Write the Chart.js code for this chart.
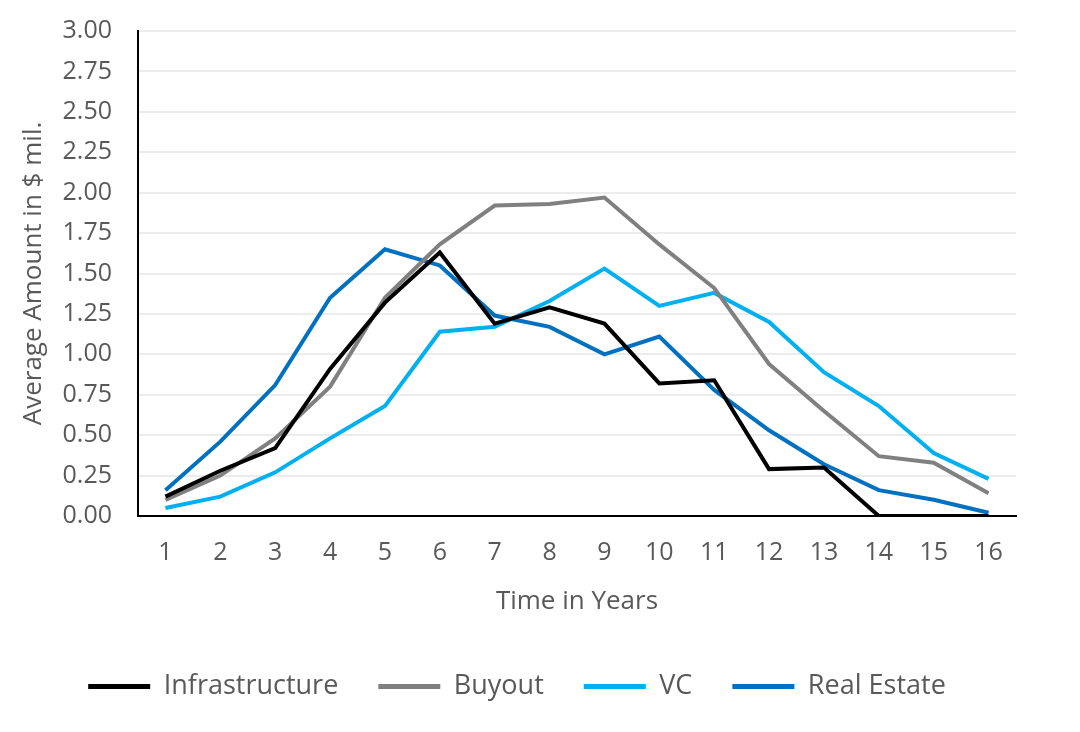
<!DOCTYPE html>
<html>
<head>
<meta charset="utf-8">
<script src="https://cdn.jsdelivr.net/npm/chart.js@4/dist/chart.umd.min.js"></script>
<style>
  html, body { margin: 0; padding: 0; background: #ffffff; }
  #wrap { width: 1080px; height: 732px; }
</style>
</head>
<body>
<div id="wrap"><canvas id="c" width="1080" height="732"></canvas></div>
<script>
const years = ['1','2','3','4','5','6','7','8','9','10','11','12','13','14','15','16'];
const infrastructure = [0.12, 0.28, 0.42, 0.91, 1.32, 1.63, 1.19, 1.29, 1.19, 0.82, 0.84, 0.29, 0.30, 0.00, 0.00, 0.00];
const buyout        = [0.10, 0.25, 0.48, 0.80, 1.35, 1.68, 1.92, 1.93, 1.97, 1.68, 1.41, 0.94, 0.65, 0.37, 0.33, 0.14];
const vc            = [0.05, 0.12, 0.27, 0.48, 0.68, 1.14, 1.17, 1.33, 1.53, 1.30, 1.38, 1.20, 0.89, 0.68, 0.39, 0.23];
const realEstate    = [0.16, 0.46, 0.81, 1.35, 1.65, 1.55, 1.24, 1.17, 1.00, 1.11, 0.78, 0.53, 0.32, 0.16, 0.10, 0.02];
const seriesNames = ['Infrastructure', 'Buyout', 'VC', 'Real Estate'];
const seriesColors = ['#000000', '#808080', '#00B0F0', '#0070C0'];
const yTitle = 'Average Amount in $ mil.';
const xTitle = 'Time in Years';

const FONT = '"Open Sans", Lato, sans-serif';
const TEXT = '#595959';

const data = [infrastructure, buyout, vc, realEstate];
const datasets = data.map((d, i) => ({
  label: seriesNames[i],
  data: d,
  borderColor: seriesColors[i],
  backgroundColor: seriesColors[i],
  borderWidth: 4,
  pointRadius: 0,
  tension: 0,
  fill: false
}));

new Chart(document.getElementById('c'), {
  type: 'line',
  data: { labels: years, datasets },
  options: {
    responsive: false,
    animation: false,
    layout: { padding: { left: 18, right: 64, top: 31, bottom: 22 } },
    plugins: {
      tooltip: { enabled: false },
      legend: {
        position: 'bottom',
        align: 'center',
        labels: {
          boxWidth: 62,
          boxHeight: 5,
          padding: 40,
          color: TEXT,
          font: { family: FONT, size: 27 },
          generateLabels(chart) {
            return chart.data.datasets.map((ds, i) => ({
              text: ds.label,
              fillStyle: ds.borderColor,
              strokeStyle: ds.borderColor,
              lineWidth: 0,
              fontColor: TEXT,
              hidden: false,
              datasetIndex: i
            }));
          }
        }
      }
    },
    scales: {
      x: {
        offset: true,
        grid: { display: true, color: 'rgba(0,0,0,0)', drawTicks: false },
        border: { display: true, color: '#000000', width: 2 },
        ticks: { color: TEXT, font: { family: FONT, size: 25 }, padding: 22, maxRotation: 0 },
        title: { display: true, text: xTitle, color: TEXT, font: { family: FONT, size: 26 }, padding: { top: 4, bottom: 16 } },
        afterFit(scale) { scale.height = 117; }
      },
      y: {
        min: 0,
        max: 3,
        ticks: {
          stepSize: 0.25,
          color: TEXT,
          font: { family: FONT, size: 25 },
          padding: 26,
          callback: v => Number(v).toFixed(2)
        },
        grid: { color: '#ececec', lineWidth: 2, drawTicks: false },
        border: { display: true, color: '#000000', width: 2 },
        title: { display: true, text: yTitle, color: TEXT, font: { family: FONT, size: 26 }, padding: 0 },
        afterFit(scale) { scale.width = 120; scale.paddingTop = 0; scale.paddingBottom = 0; }
      }
    }
  }
});
</script>
</body>
</html>
